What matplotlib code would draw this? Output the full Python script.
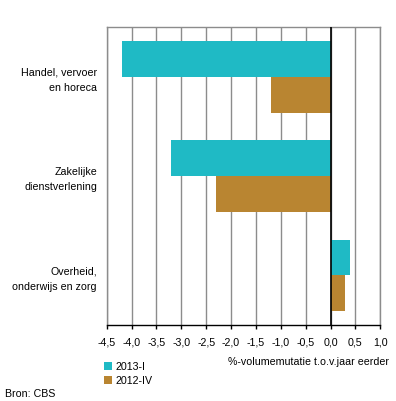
import matplotlib
matplotlib.use("Agg")
import matplotlib.pyplot as plt
import numpy as np

categories = ["Handel, vervoer\nen horeca", "Zakelijke\ndienstverlening", "Overheid,\nonderwijs en zorg"]
series_names = ["2013-I", "2012-IV"]
values_2013_I = [-4.2, -3.2, 0.4]
values_2012_IV = [-1.2, -2.3, 0.3]
xticks = [-4.5, -4.0, -3.5, -3.0, -2.5, -2.0, -1.5, -1.0, -0.5, 0.0, 0.5, 1.0]
xlabel = "%-volumemutatie t.o.v.jaar eerder"
source = "Bron: CBS"

c_cyan = "#1FBAC5"
c_brown = "#B98531"
grid_c = "#8C8C8C"

plt.rcParams['font.family'] = ['Liberation Sans', 'DejaVu Sans']
fs = 7.7

fig = plt.figure(figsize=(3.96, 4.01), dpi=100)
W, H = 396, 401
L, R, T, B = 106.7, 380.3, 27.3, 325.0
ax = fig.add_axes([L / W, 1 - B / H, (R - L) / W, (B - T) / H])

y = np.arange(len(categories))
h = 0.36
ax.barh(y - h / 2, values_2013_I, height=h, color=c_cyan, label=series_names[0], zorder=3)
ax.barh(y + h / 2, values_2012_IV, height=h, color=c_brown, label=series_names[1], zorder=3)

ax.set_xlim(-4.5, 1.0)
ax.set_ylim(2.5, -0.5)
ax.set_xticks(xticks)
ax.set_xticklabels([f"{v:.1f}".replace(".", ",") for v in xticks], fontsize=fs)
ax.set_yticks(y)
ax.set_yticklabels(categories, fontsize=fs, linespacing=1.66)
ax.tick_params(axis='y', length=0, pad=7)
ax.tick_params(axis='x', length=3, width=1, color='black', pad=6)
ax.xaxis.grid(True, color=grid_c, linewidth=1, zorder=0)
ax.set_axisbelow(True)
ax.axvline(0, color='black', linewidth=1.2, zorder=4)

for s in ['top', 'right', 'left']:
    ax.spines[s].set_color(grid_c)
    ax.spines[s].set_linewidth(1)
ax.spines['bottom'].set_color('black')
ax.spines['bottom'].set_linewidth(1)

fig.text(389 / W, 1 - 362 / H, xlabel, ha='right', va='center', fontsize=fs)
leg = fig.legend(loc='upper left', bbox_to_anchor=(104 / W, 1 - 362 / H), frameon=False,
                 fontsize=fs, handlelength=0.75, handleheight=0.75, handletextpad=0.3,
                 labelspacing=0.35, borderaxespad=0, borderpad=0)
fig.text(5 / W, 1 - 394 / H, source, ha='left', va='center', fontsize=fs)

fig.savefig("out.png", dpi=100)
